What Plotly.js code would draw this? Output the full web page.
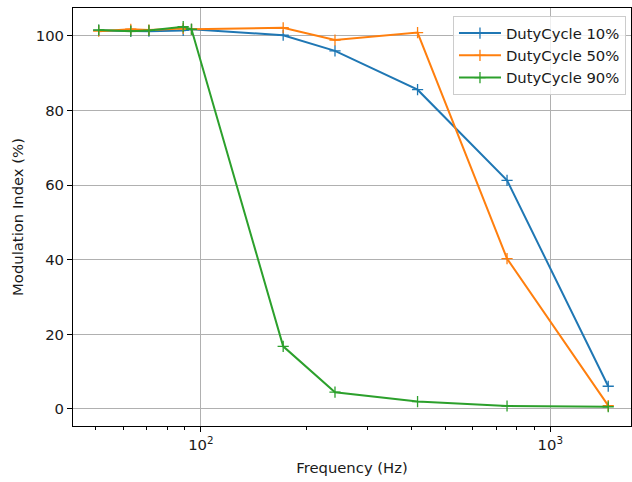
<!DOCTYPE html>
<html>
<head>
<meta charset="utf-8">
<script src="https://cdn.plot.ly/plotly-3.0.1.min.js"></script>
<style>html,body{margin:0;padding:0;background:#fff;}#chart{width:632px;height:482px;}</style>
</head>
<body>
<div id="chart"></div>
<script>
const frequency = [51, 63, 71, 89, 94, 172, 242, 417, 752, 1465];
const duty10 = [101.5, 101.3, 101.3, 101.5, 101.8, 100.2, 96.0, 85.6, 61.3, 6.1];
const duty50 = [101.3, 101.8, 101.6, 102.0, 101.8, 102.2, 98.9, 100.9, 40.3, 0.9];
const duty90 = [101.6, 101.3, 101.5, 102.5, 101.8, 16.8, 4.5, 2.0, 0.8, 0.6];
const seriesNames = ['DutyCycle 10%', 'DutyCycle 50%', 'DutyCycle 90%'];
const colors = ['#1f77b4', '#ff7f0e', '#2ca02c'];
const majorTicks = [100, 1000];
const majorText = ['10<sup>2</sup>', '10<sup>3</sup>'];
const minorTicks = [50, 60, 70, 80, 90, 200, 300, 400, 500, 600, 700, 800, 900];
const yTicks = [0, 20, 40, 60, 80, 100];

const font = {family: 'DejaVu Sans, sans-serif', size: 14.8, color: '#1a1a1a'};
const traces = [duty10, duty50, duty90].map((ys, i) => ({
  x: frequency, y: ys, name: seriesNames[i], type: 'scatter', mode: 'lines+markers',
  line: {color: colors[i], width: 2},
  marker: {symbol: 'cross-thin', size: 8, line: {color: colors[i], width: 1.3}}
}));

const layout = {
  width: 632, height: 482,
  margin: {l: 73, r: 1, t: 8, b: 56},
  paper_bgcolor: '#fff', plot_bgcolor: '#fff',
  font: font,
  showlegend: true,
  legend: {x: 0.991, y: 0.981, xanchor: 'right', yanchor: 'top',
    bgcolor: 'rgba(255,255,255,0.8)', bordercolor: '#cccccc', borderwidth: 1,
    font: font, tracegroupgap: 2, itemwidth: 42},
  xaxis: {
    type: 'log', range: [1.634, 3.231],
    tickmode: 'array', tickvals: majorTicks, ticktext: majorText,
    ticks: 'outside', ticklen: 5, tickcolor: '#000', tickwidth: 1,
    showgrid: true, gridcolor: '#b0b0b0', gridwidth: 1,
    showline: true, linecolor: '#000', linewidth: 1, mirror: true, zeroline: false,
    minor: {tickmode: 'array', tickvals: minorTicks, ticks: 'outside', ticklen: 3, tickcolor: '#000', tickwidth: 1, showgrid: false},
    title: {text: 'Frequency (Hz)', font: font, standoff: 10}
  },
  yaxis: {
    range: [-4.56, 107.5],
    tickmode: 'array', tickvals: yTicks,
    ticks: 'outside', ticklen: 5, tickcolor: '#000', tickwidth: 1,
    showgrid: true, gridcolor: '#b0b0b0', gridwidth: 1,
    showline: true, linecolor: '#000', linewidth: 1, mirror: true, zeroline: false,
    title: {text: 'Modulation Index (%)', font: font, standoff: 8}
  }
};
Plotly.newPlot('chart', traces, layout, {staticPlot: true, displayModeBar: false});
</script>
</body>
</html>
